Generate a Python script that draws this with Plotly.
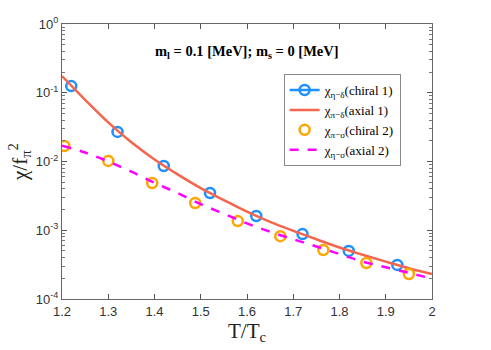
import plotly.graph_objects as go

# Data
chiral1_x = [1.22, 1.32, 1.42, 1.52, 1.62, 1.72, 1.82, 1.925]
chiral1_y = [0.125, 0.0269, 0.0086, 0.00348, 0.00161, 0.00088, 0.00050, 0.000313]

chiral2_x = [1.205, 1.30, 1.395, 1.488, 1.58, 1.672, 1.765, 1.858, 1.95]
chiral2_y = [0.0168, 0.0102, 0.00487, 0.00249, 0.00136, 0.00082, 0.000516, 0.000334, 0.000231]

axial1_x = [1.20, 1.25, 1.30, 1.35, 1.40, 1.45, 1.50, 1.55, 1.60, 1.65, 1.70, 1.75, 1.80, 1.85, 1.90, 1.95, 2.00]
axial1_y = [0.175, 0.079, 0.037, 0.019, 0.0107, 0.0065, 0.0041, 0.00275, 0.00186, 0.00132, 0.00098,
            0.00074, 0.00056, 0.00044, 0.00035, 0.00028, 0.00023]

axial2_x = [1.20, 1.25, 1.30, 1.35, 1.40, 1.45, 1.50, 1.55, 1.60, 1.65, 1.70, 1.75, 1.80, 1.85, 1.90, 1.95, 1.985]
axial2_y = [0.0170, 0.0135, 0.0100, 0.0071, 0.0049, 0.00347, 0.0024, 0.00174, 0.00126, 0.00095, 0.00074,
            0.00058, 0.00045, 0.00035, 0.00029, 0.00024, 0.00021]

x_ticks = [1.2, 1.3, 1.4, 1.5, 1.6, 1.7, 1.8, 1.9, 2.0]
x_ticktext = ["1.2", "1.3", "1.4", "1.5", "1.6", "1.7", "1.8", "1.9", "2"]
y_ticks = [1e-4, 1e-3, 1e-2, 1e-1, 1]
y_ticktext = ["10<sup>-4</sup>", "10<sup>-3</sup>", "10<sup>-2</sup>", "10<sup>-1</sup>", "10<sup>0</sup>"]
y_minor = [m * d for d in [1e-4, 1e-3, 1e-2, 1e-1] for m in range(2, 10)]

BLUE = "#1E90FF"
ORANGE = "#FFA500"
RED = "#F4654E"
MAGENTA = "#FF00FF"
SERIF = "Liberation Serif, DejaVu Serif, serif"

# break the blue series between points so only the legend shows a line
bx, by = [], []
for xv, yv in zip(chiral1_x, chiral1_y):
    bx += [xv, None]
    by += [yv, None]

fig = go.Figure()
fig.add_trace(go.Scatter(x=bx, y=by, mode="lines+markers", connectgaps=False,
                         name="χ<sub>η−δ</sub>(chiral 1)",
                         line=dict(color=BLUE, width=2.5),
                         marker=dict(symbol="circle-open", size=10, color=BLUE, line=dict(width=2.5))))
fig.add_trace(go.Scatter(x=axial1_x, y=axial1_y, mode="lines", line_shape="spline",
                         name="χ<sub>π−δ</sub>(axial 1)",
                         line=dict(color=RED, width=2.5)))
fig.add_trace(go.Scatter(x=chiral2_x, y=chiral2_y, mode="markers",
                         name="χ<sub>π−σ</sub>(chiral 2)",
                         marker=dict(symbol="circle-open", size=10, color=ORANGE, line=dict(width=2.5))))
fig.add_trace(go.Scatter(x=axial2_x, y=axial2_y, mode="lines", line_shape="spline",
                         name="χ<sub>η−σ</sub>(axial 2)",
                         line=dict(color=MAGENTA, width=2.5, dash="dash")))

fig.add_annotation(x=0.5, y=0.94, xref="paper", yref="paper", showarrow=False,
                   text="<b>m<sub>l</sub> = 0.1 [MeV]; m<sub>s</sub> = 0 [MeV]</b>",
                   font=dict(family=SERIF, size=14.5, color="black"))

fig.update_layout(
    width=491, height=350,
    margin=dict(l=62, r=59, t=24, b=51),
    paper_bgcolor="white", plot_bgcolor="white",
    showlegend=True,
    legend=dict(x=0.599, y=0.818, xanchor="left", yanchor="top",
                bgcolor="white", bordercolor="#888", borderwidth=1,
                font=dict(family=SERIF, size=13, color="black"),
                tracegroupgap=0, itemwidth=30),
)
fig.update_xaxes(range=[1.2, 2.0], tickvals=x_ticks, ticktext=x_ticktext, automargin=False,
                 ticks="inside", ticklen=5, tickcolor="#555", showline=True, linecolor="#666",
                 mirror="ticks", showgrid=False, zeroline=False,
                 tickfont=dict(family="Liberation Sans, Arial, sans-serif", size=13, color="#333"),
                 title=dict(text="T/T<sub>c</sub>", font=dict(family=SERIF, size=21, color="#222"), standoff=2))
fig.update_yaxes(type="log", range=[-4, 0], tickvals=y_ticks, ticktext=y_ticktext, automargin=False,
                 ticks="inside", ticklen=5, tickcolor="#555", showline=True, linecolor="#666",
                 mirror="ticks", showgrid=False, zeroline=False,
                 minor=dict(ticks="inside", ticklen=3, tickcolor="#777", showgrid=False, tickvals=y_minor),
                 tickfont=dict(family="Liberation Sans, Arial, sans-serif", size=13, color="#333"),
                 title=dict(text="χ/f<sub>π</sub><sup>2</sup>", font=dict(family=SERIF, size=21, color="#222"), standoff=2))

fig.write_html("out.html", config={"displayModeBar": False},
               post_script="document.body.style.margin='0px';document.body.style.overflow='hidden';")
